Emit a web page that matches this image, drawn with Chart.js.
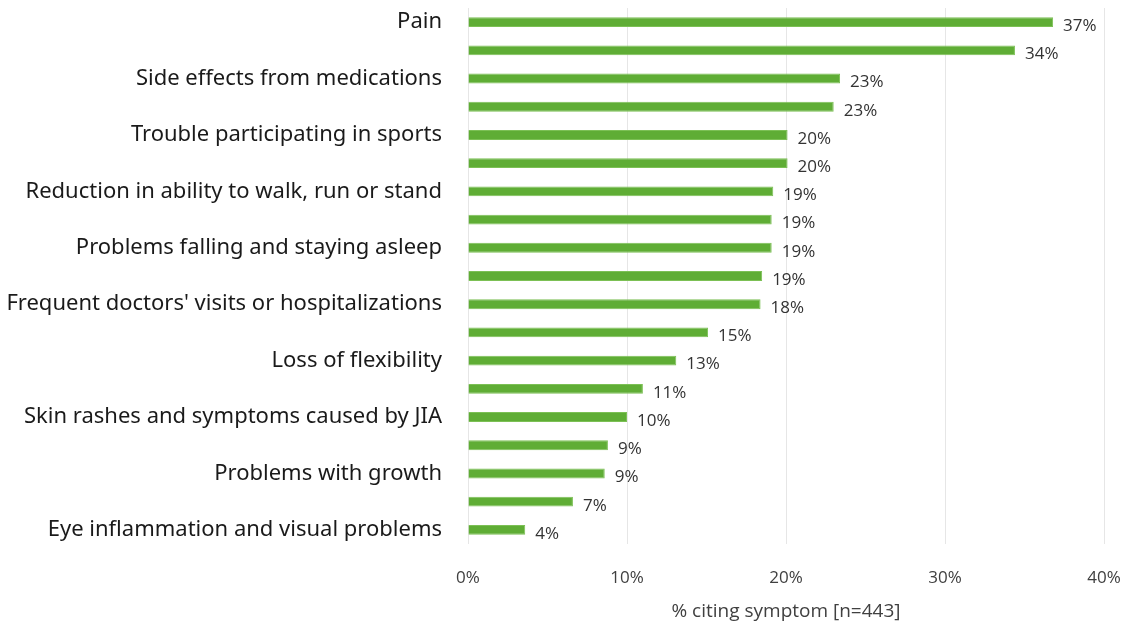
<!DOCTYPE html>
<html>
<head>
<meta charset="utf-8">
<script src="https://cdn.jsdelivr.net/npm/chart.js@4"></script>
<style>
  html, body { margin: 0; padding: 0; background: #fff; }
  #wrap { width: 1126px; height: 627px; }
</style>
</head>
<body>
<div id="wrap"><canvas id="chart" width="1126" height="627"></canvas></div>
<script>
// only every other category is labelled in the source
const categories = [
  'Pain', '',
  'Side effects from medications', '',
  'Trouble participating in sports', '',
  'Reduction in ability to walk, run or stand', '',
  'Problems falling and staying asleep', '',
  "Frequent doctors' visits or hospitalizations", '',
  'Loss of flexibility', '',
  'Skin rashes and symptoms caused by JIA', '',
  'Problems with growth', '',
  'Eye inflammation and visual problems'
];
const percentCiting = [36.8, 34.4, 23.4, 23.0, 20.1, 20.1, 19.2, 19.1, 19.1, 18.5,
  18.4, 15.1, 13.1, 11.0, 10.0, 8.8, 8.6, 6.6, 3.6];
const xTicks = [0, 10, 20, 30, 40];
const xTitle = '% citing symptom [n=443]';

const barLabels = {
  id: 'barLabels',
  afterDatasetsDraw(chart) {
    const ctx = chart.ctx;
    const meta = chart.getDatasetMeta(0);
    ctx.save();
    ctx.font = '17px "Open Sans", sans-serif';
    ctx.fillStyle = '#333333';
    ctx.textAlign = 'left';
    ctx.textBaseline = 'middle';
    meta.data.forEach((bar, i) => {
      ctx.fillText(Math.round(percentCiting[i]) + '%', bar.x + 10, bar.y + 4);
    });
    ctx.restore();
  }
};

new Chart(document.getElementById('chart'), {
  type: 'bar',
  data: {
    labels: categories,
    datasets: [{
      data: percentCiting,
      backgroundColor: '#5fad35',
      borderColor: '#7cc055',
      borderWidth: 1,
      barPercentage: 0.7,
      categoryPercentage: 0.5
    }]
  },
  options: {
    indexAxis: 'y',
    responsive: false,
    animation: false,
    layout: { padding: { top: 8, right: 22, bottom: 0, left: 0 } },
    plugins: {
      legend: { display: false },
      tooltip: { enabled: false }
    },
    scales: {
      x: {
        min: 0,
        max: 40,
        afterBuildTicks: (axis) => { axis.ticks = xTicks.map(v => ({ value: v })); },
        afterFit: (axis) => { axis.height = 83; axis.paddingLeft = 0; axis.paddingRight = 0; },
        grid: { color: '#e6e6e6', drawTicks: false },
        border: { display: false },
        ticks: {
          padding: 24,
          color: '#404040',
          font: { family: '"Open Sans", sans-serif', size: 17 },
          callback: (v) => v + '%'
        },
        title: {
          display: true,
          text: xTitle,
          color: '#404040',
          font: { family: '"Open Sans", sans-serif', size: 19 },
          padding: { top: 8 }
        }
      },
      y: {
        afterFit: (axis) => { axis.width = 468; axis.paddingTop = 0; axis.paddingBottom = 0; },
        grid: { display: false },
        border: { display: false },
        ticks: {
          autoSkip: false,
          padding: 18,
          color: '#1a1a1a',
          font: { family: '"Noto Sans", sans-serif', size: 22 }
        }
      }
    }
  },
  plugins: [barLabels]
});
</script>
</body>
</html>
